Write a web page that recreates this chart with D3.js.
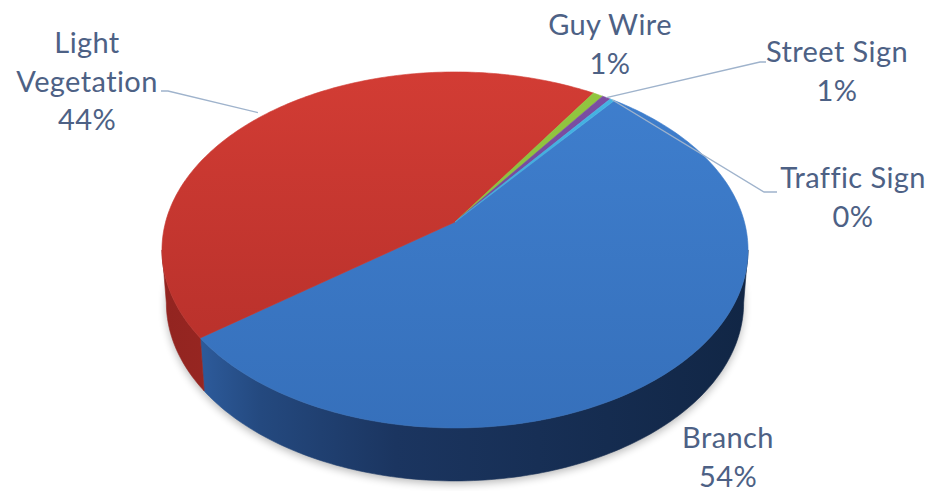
<!DOCTYPE html>
<html>
<head>
<meta charset="utf-8">
<script src="https://cdn.jsdelivr.net/npm/d3@7"></script>
<style>
html,body{margin:0;padding:0;background:#fff;}
svg{display:block;}
</style>
</head>
<body>
<svg id="chart" width="932" height="491"></svg>
<script>
// ---- data ----
const categories = ["Branch", "Light Vegetation", "Guy Wire", "Street Sign", "Traffic Sign"];
const values = [54.0, 44.4, 0.65, 0.55, 0.3];
const labelLines = [["Branch"], ["Light", "Vegetation"], ["Guy Wire"], ["Street Sign"], ["Traffic Sign"]];

// ---- layout ----
const W = 932, H = 491;
const cx = 455, cy = 222;           // projected pie centre (apex)
const k = 0.157;                     // perspective factor
const su = 289.4, sv = 173.6;        // projection scale
const depth = 53;                    // side wall height
const botScale = 0.985;              // bottom face slightly narrower (perspective)
const startDeg = 38.2;

const svg = d3.select("#chart");
const defs = svg.append("defs");

function proj(theta, r, dy) {
  const X = r * Math.sin(theta), Z = r * Math.cos(theta);
  const s = 1 + k * Z;
  const x = cx + su * X / s, y = cy - sv * Z / s;
  if (dy) return [cx + (x - cx) * botScale, y + dy];
  return [x, y];
}
function arcPts(a0, a1, r, dy) {
  const n = Math.max(2, Math.ceil(Math.abs(a1 - a0) / (Math.PI / 180)));
  return d3.range(n + 1).map(i => proj(a0 + (a1 - a0) * i / n, r, dy));
}
const line = d3.line().curve(d3.curveLinear);

const pie = d3.pie().sort(null)
  .startAngle(startDeg * Math.PI / 180)
  .endAngle(startDeg * Math.PI / 180 + 2 * Math.PI);
const arcs = pie(values);

// colours
const topCols = [["#3f7fce", "#3670bb"], ["#d23c34", "#b22e29"], ["#92c640", "#86b838"], ["#7c4ea3", "#6e4595"], ["#45b3e3", "#3aa4d6"]];
const sideCols = [
  [["#3367ae", 0], ["#24497f", 0.17], ["#1b3560", 0.4], ["#112645", 1]],
  [["#922420", 0], ["#a82c26", 0.4], ["#9a2722", 1]],
  [["#6f9a2c", 0], ["#6f9a2c", 1]],
  [["#5b3a7c", 0], ["#5b3a7c", 1]],
  [["#2d86ad", 0], ["#2d86ad", 1]]
];

topCols.forEach((c, i) => {
  const g = defs.append("linearGradient").attr("id", "top" + i)
    .attr("gradientUnits", "userSpaceOnUse").attr("x1", 0).attr("y1", 72).attr("x2", 0).attr("y2", 430);
  g.append("stop").attr("offset", 0).attr("stop-color", c[0]);
  g.append("stop").attr("offset", 1).attr("stop-color", c[1]);
});
sideCols.forEach((c, i) => {
  const g = defs.append("linearGradient").attr("id", "side" + i)
    .attr("gradientUnits", "userSpaceOnUse").attr("x1", 160).attr("y1", 0).attr("x2", 750).attr("y2", 0);
  c.forEach(s => g.append("stop").attr("offset", s[1]).attr("stop-color", s[0]));
});
const blur = defs.append("filter").attr("id", "blur").attr("x", "-20%").attr("y", "-20%").attr("width", "140%").attr("height", "140%");
blur.append("feGaussianBlur").attr("stdDeviation", 4);

// shadow
svg.append("path")
  .attr("d", line(arcPts(0, 2 * Math.PI, 1.0, depth + 3)) + "Z")
  .attr("fill", "#000").attr("opacity", 0.28).attr("filter", "url(#blur)");

// side walls (visible front half)
const visA = Math.acos(-k), visB = 2 * Math.PI - Math.acos(-k);
const sideG = svg.append("g");
arcs.forEach((d, i) => {
  [0, 2 * Math.PI].forEach(off => {
    const a0 = Math.max(d.startAngle, visA + off), a1 = Math.min(d.endAngle, visB + off);
    if (a1 > a0) {
      const topP = arcPts(a0, a1, 1, 0);
      const botP = arcPts(a1, a0, 1, depth);
      sideG.append("path").attr("d", line(topP.concat(botP)) + "Z")
        .attr("fill", "url(#side" + i + ")").attr("stroke", "url(#side" + i + ")").attr("stroke-width", 0.6);
    }
  });
});

// top faces
const topG = svg.append("g");
arcs.forEach((d, i) => {
  const pts = [[cx, cy]].concat(arcPts(d.startAngle, d.endAngle, 1, 0));
  topG.append("path").attr("d", line(pts) + "Z")
    .attr("fill", "url(#top" + i + ")").attr("stroke", "url(#top" + i + ")").attr("stroke-width", 0.6);
});

// labels
const labelPos = [
  { x: 728, y: 448 },
  { x: 87, y: 53 },
  { x: 610, y: 35 },
  { x: 837, y: 62 },
  { x: 853, y: 188 }
];
const lh = 38.5;
const textCol = "#4d6185";
const labG = svg.append("g").attr("font-family", "Lato, 'Open Sans', sans-serif")
  .attr("font-size", 29).attr("letter-spacing", 0.4).attr("fill", textCol).attr("text-anchor", "middle");
arcs.forEach((d, i) => {
  const p = labelPos[i];
  const t = labG.append("text").attr("x", p.x).attr("y", p.y);
  const linesArr = labelLines[i].concat([Math.round(values[i]) + "%"]);
  linesArr.forEach((s, j) => {
    t.append("tspan").attr("x", p.x).attr("y", p.y + j * lh).text(s);
  });
});

// leader lines
function mid(d) { return (d.startAngle + d.endAngle) / 2; }
const leaders = [
  { i: 1, r: 1.03, pts: [[161, 91], [168, 91]] },
  { i: 3, r: 1.0, pts: [[766, 62], [760, 62]] },
  { i: 4, r: 1.0, pts: [[777, 192], [764, 192]] }
];
const leadG = svg.append("g");
leaders.forEach(L => {
  const p = proj(mid(arcs[L.i]), L.r, 0);
  leadG.append("path").attr("d", line(L.pts.concat([p])))
    .attr("fill", "none").attr("stroke", "#9fb3cc").attr("stroke-width", 1.3);
});
</script>
</body>
</html>
